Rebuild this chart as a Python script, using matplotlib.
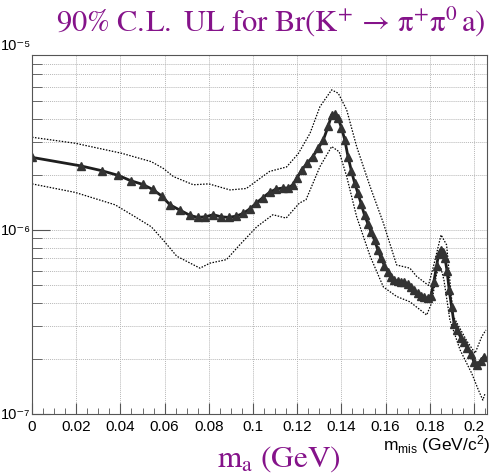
import math
import matplotlib
matplotlib.use("Agg")
import matplotlib.pyplot as plt
from matplotlib.ticker import FixedLocator, LogLocator, NullFormatter, FuncFormatter

plt.rcParams['mathtext.fontset'] = 'custom'
plt.rcParams['mathtext.rm'] = 'Liberation Sans'
plt.rcParams['mathtext.it'] = 'Liberation Sans:italic'
plt.rcParams['mathtext.bf'] = 'Liberation Sans:bold'
plt.rcParams['mathtext.default'] = 'rm'

# 90% C.L. upper limit vs missing mass (central curve, in units of 1e-6)
m_center = [0.0, 0.022, 0.0315, 0.039, 0.0448, 0.050, 0.0546, 0.0587, 0.0624, 0.067,
            0.0715, 0.075, 0.0785, 0.082, 0.0855, 0.089, 0.0925, 0.0955, 0.0985, 0.1015,
            0.1045, 0.1075, 0.1105, 0.1135, 0.116, 0.118, 0.120, 0.122, 0.1245, 0.127,
            0.1295, 0.1318, 0.134, 0.1356, 0.137, 0.1385, 0.140, 0.1415, 0.143, 0.1445,
            0.146, 0.1475, 0.149, 0.1505, 0.152, 0.1535, 0.155, 0.1565, 0.158, 0.1595,
            0.161, 0.1625, 0.164, 0.1655, 0.167, 0.1685, 0.170, 0.1715, 0.173, 0.1745,
            0.176, 0.1775, 0.179, 0.1805, 0.1818, 0.1831, 0.184, 0.1849, 0.1858, 0.1869,
            0.1878, 0.1888, 0.1899, 0.191, 0.1925, 0.194, 0.1955, 0.197, 0.1985, 0.200,
            0.2015, 0.203, 0.2045]
ul_center = [2.48, 2.23, 2.10, 1.98, 1.85, 1.77, 1.66, 1.53, 1.37, 1.28,
             1.20, 1.17, 1.18, 1.21, 1.18, 1.17, 1.19, 1.23, 1.30, 1.40,
             1.50, 1.60, 1.67, 1.69, 1.69, 1.76, 1.92, 2.12, 2.30, 2.50,
             2.78, 3.08, 3.65, 4.22, 4.25, 4.05, 3.60, 3.10, 2.50, 2.10,
             1.80, 1.58, 1.38, 1.20, 1.08, 0.97, 0.88, 0.78, 0.70, 0.64,
             0.59, 0.555, 0.535, 0.525, 0.52, 0.52, 0.51, 0.49, 0.47, 0.455,
             0.44, 0.43, 0.425, 0.44, 0.52, 0.64, 0.74, 0.78, 0.76, 0.70,
             0.60, 0.47, 0.38, 0.31, 0.285, 0.26, 0.245, 0.228, 0.212, 0.192,
             0.185, 0.195, 0.205]

# +/- band edges
m_upper = [0.0, 0.0195, 0.0406, 0.054, 0.0594, 0.064, 0.073, 0.080, 0.0896, 0.097,
           0.1017, 0.1075, 0.1152, 0.1205, 0.1258, 0.1303, 0.1356, 0.1386, 0.1424, 0.1469,
           0.153, 0.159, 0.165, 0.171, 0.174, 0.1794, 0.1816, 0.1851, 0.1876, 0.1906,
           0.1967, 0.2005, 0.2035, 0.2054]
ul_upper = [3.19, 2.96, 2.61, 2.35, 2.16, 1.95, 1.76, 1.78, 1.65, 1.68,
            1.85, 2.08, 2.20, 2.60, 3.35, 4.68, 5.77, 5.53, 4.49, 2.84,
            1.72, 1.09, 0.645, 0.62, 0.56, 0.50, 0.63, 0.94, 0.83, 0.34,
            0.25, 0.214, 0.263, 0.286]

m_lower = [0.0, 0.0195, 0.0376, 0.0466, 0.054, 0.0594, 0.0655, 0.076, 0.0805, 0.088,
           0.094, 0.1017, 0.109, 0.115, 0.121, 0.124, 0.1303, 0.1356, 0.139, 0.1424,
           0.1469, 0.153, 0.159, 0.165, 0.171, 0.1786, 0.1808, 0.1831, 0.1849, 0.1864,
           0.1891, 0.1937, 0.199, 0.202, 0.204, 0.205]
ul_lower = [1.78, 1.60, 1.37, 1.18, 1.04, 0.88, 0.72, 0.62, 0.66, 0.69,
            0.83, 1.04, 1.21, 1.16, 1.40, 1.46, 2.21, 2.84, 2.66, 1.95,
            1.18, 0.72, 0.49, 0.435, 0.407, 0.345, 0.40, 0.58, 0.63, 0.535,
            0.324, 0.223, 0.166, 0.135, 0.119, 0.129]

x_ticks = [0.0, 0.02, 0.04, 0.06, 0.08, 0.10, 0.12, 0.14, 0.16, 0.18, 0.20]

purple = '#85138a'
sans = ['Liberation Sans', 'DejaVu Sans']
SUP = str.maketrans('-0123456789', '\u207b\u2070\u00b9\u00b2\u00b3\u2074\u2075\u2076\u2077\u2078\u2079')


def decade_label(v, pos=None):
    return '10' + str(round(math.log10(v))).translate(SUP)


fig = plt.figure(figsize=(4.91, 4.76), dpi=100)
ax = fig.add_axes([0.0652, 0.1303, 0.9267, 0.7542])

ax.plot(m_upper, [v * 1e-6 for v in ul_upper], color='black', lw=0.9, ls=(0, (1.2, 1.2)))
ax.plot(m_lower, [v * 1e-6 for v in ul_lower], color='black', lw=0.9, ls=(0, (1.2, 1.2)))
ax.plot(m_center, [v * 1e-6 for v in ul_center], color='#1e1e1e', lw=2.0,
        marker='^', markersize=5.5, markerfacecolor='#333333', markeredgecolor='#333333')

ax.set_yscale('log')
ax.set_xlim(0, 0.2059)
ax.set_ylim(1e-7, 8.93e-6)

ax.xaxis.set_major_locator(FixedLocator(x_ticks))
ax.xaxis.set_minor_locator(FixedLocator([i * 0.005 for i in range(42)]))
ax.xaxis.set_major_formatter(FuncFormatter(lambda v, p: f"{v:g}"))
ax.yaxis.set_major_locator(FixedLocator([1e-7, 1e-6]))
ax.yaxis.set_minor_locator(LogLocator(base=10, subs=range(2, 10)))
ax.yaxis.set_minor_formatter(NullFormatter())
ax.yaxis.set_major_formatter(FuncFormatter(decade_label))

ax.grid(True, axis='x', which='major', color='#b8b8b8', lw=0.7, ls=(0, (1, 1)))
ax.grid(True, axis='y', which='both', color='#b8b8b8', lw=0.7, ls=(0, (1, 1)))

ax.tick_params(axis='both', which='both', direction='in', color='#555555',
               labelsize=11, top=False, right=False)
ax.tick_params(axis='x', which='major', length=8, pad=4)
ax.tick_params(axis='x', which='minor', length=4)
ax.tick_params(axis='y', which='major', length=13, pad=1, labelsize=10.5)
ax.tick_params(axis='y', which='minor', length=7)
for lab in ax.get_xticklabels() + ax.get_yticklabels():
    lab.set_fontfamily(sans)
for sp in ax.spines.values():
    sp.set_color('#555555')
    sp.set_linewidth(0.8)

# label for the decade just above the frame
ax.text(-1.0 / 455, 1e-5, decade_label(1e-5), transform=ax.get_yaxis_transform(),
        ha='right', va='center', fontsize=10.5, clip_on=False, family=sans)

fig.text(0.998, 0.067, r"m${}_{mis}$ (GeV/c${}^{2}$)", ha='right', va='center',
         fontsize=12.5, family=sans)

fig.text(0.552, 0.956,
         r"$\mathrm{90\%\ C.\!L.\ UL\ for\ Br(K^{+}\/\rightarrow\/\pi^{+}\pi^{0}\,a)}$",
         ha='center', va='center', fontsize=22, color=purple, math_fontfamily='stix')
fig.text(0.568, 0.036, r"$\mathrm{m_{a}\ (GeV)}$", ha='center', va='center', fontsize=22.5,
         color=purple, math_fontfamily='stix')

fig.savefig('out.png', dpi=100)
